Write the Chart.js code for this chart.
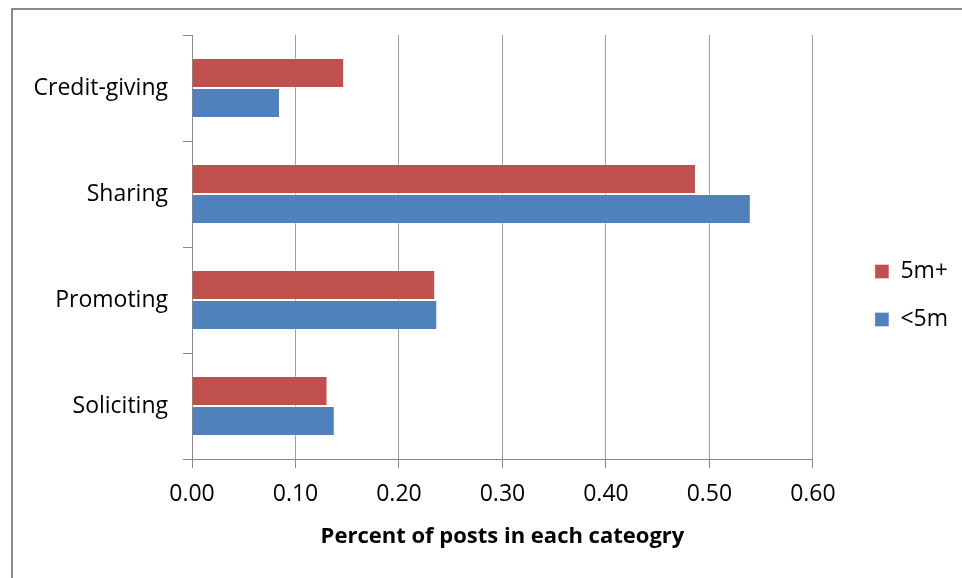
<!DOCTYPE html>
<html>
<head>
<meta charset="utf-8">
<script src="https://cdn.jsdelivr.net/npm/chart.js@4/dist/chart.umd.min.js"></script>
<style>
  html, body { margin: 0; padding: 0; background: #ffffff; }
  #wrap { position: relative; width: 962px; height: 578px; }
</style>
</head>
<body>
<div id="wrap"><canvas id="chart" width="962" height="578"></canvas></div>
<script>
// Post categories, top to bottom
const categories = ['Credit-giving', 'Sharing', 'Promoting', 'Soliciting'];

// Share of posts per category for each follower group
const share5mPlus = [0.147, 0.487, 0.235, 0.131];
const shareUnder5m = [0.085, 0.540, 0.237, 0.138];

const seriesNames = ['5m+', '<5m'];
const axisTitle = 'Percent of posts in each cateogry';

const FONT = "'Open Sans', 'Noto Sans', sans-serif";

// Thin grey frame around the chart object (left and top edges)
const framePlugin = {
  id: 'frame',
  beforeDraw(chart) {
    const ctx = chart.ctx;
    ctx.save();
    ctx.fillStyle = '#ffffff';
    ctx.fillRect(0, 0, chart.width, chart.height);
    ctx.strokeStyle = '#8a8a8a';
    ctx.lineWidth = 2;
    ctx.beginPath();
    ctx.moveTo(12, chart.height);
    ctx.lineTo(12, 9);
    ctx.lineTo(chart.width, 9);
    ctx.stroke();
    ctx.restore();
  }
};

// Nudge the legend box to the right and up, away from the plot
const legendOffsetPlugin = {
  id: 'legendOffset',
  afterLayout(chart) {
    const lg = chart.legend;
    if (!lg) return;
    const dx = 37, dy = -11;
    lg.left += dx; lg.right += dx;
    lg.top += dy; lg.bottom += dy;
  }
};

new Chart(document.getElementById('chart'), {
  type: 'bar',
  data: {
    labels: categories,
    datasets: [
      {
        label: seriesNames[0],
        data: share5mPlus,
        backgroundColor: '#C0504D',
        borderColor: 'rgba(255,255,255,0.35)',
        borderWidth: 1,
        barPercentage: 1.0,
        categoryPercentage: 0.566
      },
      {
        label: seriesNames[1],
        data: shareUnder5m,
        backgroundColor: '#4F81BD',
        borderColor: 'rgba(255,255,255,0.35)',
        borderWidth: 1,
        barPercentage: 1.0,
        categoryPercentage: 0.566
      }
    ]
  },
  options: {
    indexAxis: 'y',
    responsive: false,
    animation: false,
    layout: { padding: { left: 12, top: 35, right: 41, bottom: 0 } },
    plugins: {
      tooltip: { enabled: false },
      legend: {
        position: 'right',
        align: 'center',
        labels: {
          color: '#000000',
          font: { family: FONT, size: 23 },
          boxWidth: 14,
          boxHeight: 14,
          padding: 25
        }
      }
    },
    scales: {
      x: {
        min: 0,
        max: 0.6,
        afterFit(scale) { scale.height = 119; },
        ticks: {
          stepSize: 0.1,
          color: '#000000',
          font: { family: FONT, size: 23 },
          padding: 13,
          callback: (v) => Number(v).toFixed(2)
        },
        grid: {
          color: '#9e9e9e',
          lineWidth: 1,
          drawTicks: true,
          tickLength: 9,
          tickColor: '#8a8a8a'
        },
        border: { color: '#8a8a8a', width: 1 },
        title: {
          display: true,
          text: axisTitle,
          color: '#000000',
          font: { family: FONT, size: 22, weight: 'bold' },
          padding: { top: 0, bottom: 28 }
        }
      },
      y: {
        afterFit(scale) { scale.width = 180; },
        ticks: {
          color: '#000000',
          font: { family: FONT, size: 23 },
          padding: 15
        },
        grid: {
          offset: true,
          drawOnChartArea: false,
          drawTicks: true,
          tickLength: 9,
          tickColor: '#8a8a8a',
          lineWidth: 1
        },
        border: { color: '#8a8a8a', width: 1 }
      }
    }
  },
  plugins: [framePlugin, legendOffsetPlugin]
});
</script>
</body>
</html>
